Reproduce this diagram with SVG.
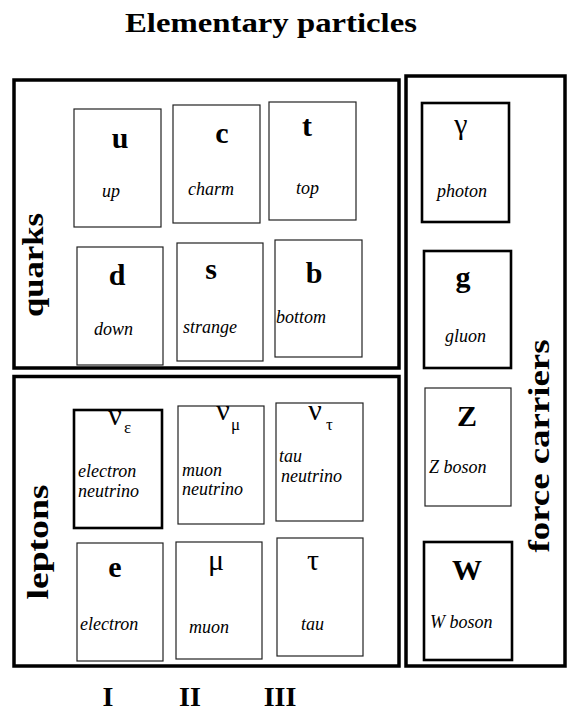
<svg xmlns="http://www.w3.org/2000/svg" width="568" height="711" viewBox="0 0 568 711">
<style>
text{font-family:"Liberation Serif","Times New Roman",serif;fill:#000}
.grp{fill:none;stroke:#000;stroke-width:3.5}
.thin{fill:#fff;stroke:#222;stroke-width:1.2}
.thick{fill:#fff;stroke:#000;stroke-width:2.6}
.sym{font-size:30px;font-weight:bold;text-anchor:middle}
.gr{font-size:30px;text-anchor:middle}
.sub{font-size:17px}
.nm{font-size:18px;font-style:italic}
.lbl{font-size:29px;font-weight:bold;text-anchor:middle}
.gen{font-size:28px;font-weight:bold;text-anchor:middle}
</style>
<rect width="568" height="711" fill="#fff"/>
<g id="title"><text x="125" y="32" font-size="27" font-weight="bold" textLength="292" lengthAdjust="spacingAndGlyphs">Elementary  particles</text></g>

<g id="quarks">
<rect class="grp" x="14" y="80" width="385" height="288"/>
<text class="lbl" transform="translate(43,265) rotate(-90)" textLength="104" lengthAdjust="spacingAndGlyphs">quarks</text>
</g>
<g id="leptons">
<rect class="grp" x="14" y="376.5" width="385" height="289.5"/>
<text class="lbl" transform="translate(48,542) rotate(-90)" textLength="115" lengthAdjust="spacingAndGlyphs">leptons</text>
</g>
<g id="force-carriers">
<rect class="grp" x="406" y="76" width="159" height="590"/>
<text class="lbl" transform="translate(549,446) rotate(-90)" textLength="213" lengthAdjust="spacingAndGlyphs">force  carriers</text>
</g>

<g id="up"><rect class="thin" x="74" y="109" width="87" height="118"/><text class="sym" x="120" y="148">u</text><text class="nm" x="102" y="197">up</text></g>
<g id="charm"><rect class="thin" x="173" y="105" width="87" height="118"/><text class="sym" x="222" y="143">c</text><text class="nm" x="188" y="195">charm</text></g>
<g id="top"><rect class="thin" x="269" y="102" width="87" height="118"/><text class="sym" x="307" y="136">t</text><text class="nm" x="296" y="194">top</text></g>
<g id="down"><rect class="thin" x="77" y="247" width="86" height="118"/><text class="sym" x="117" y="285">d</text><text class="nm" x="94" y="335">down</text></g>
<g id="strange"><rect class="thin" x="177" y="243" width="86" height="118"/><text class="sym" x="211" y="279">s</text><text class="nm" x="183" y="333">strange</text></g>
<g id="bottom"><rect class="thin" x="275" y="240" width="87" height="117"/><text class="sym" x="314" y="283">b</text><text class="nm" x="276" y="323">bottom</text></g>

<g id="electron-neutrino"><rect class="thick" x="74" y="410" width="88" height="118"/><text class="gr" x="115" y="425">ν</text><text class="sub" x="124" y="433">ε</text><text class="nm" x="78" y="477">electron</text><text class="nm" x="78" y="497">neutrino</text></g>
<g id="muon-neutrino"><rect class="thin" x="178" y="406" width="86" height="118"/><text class="gr" x="223" y="420">ν</text><text class="sub" x="231" y="430">μ</text><text class="nm" x="182" y="476">muon</text><text class="nm" x="182" y="495">neutrino</text></g>
<g id="tau-neutrino"><rect class="thin" x="276" y="403" width="87" height="118"/><text class="gr" x="315" y="420">ν</text><text class="sub" x="326" y="430">τ</text><text class="nm" x="279" y="462">tau</text><text class="nm" x="281" y="482">neutrino</text></g>
<g id="electron"><rect class="thin" x="77" y="543" width="86" height="118"/><text class="sym" x="115" y="577">e</text><text class="nm" x="80" y="630">electron</text></g>
<g id="muon"><rect class="thin" x="176" y="542" width="86" height="117"/><text class="gr" x="216" y="570">μ</text><text class="nm" x="189" y="633">muon</text></g>
<g id="tau"><rect class="thin" x="277" y="538" width="86" height="118"/><text class="gr" x="313" y="570">τ</text><text class="nm" x="301" y="630">tau</text></g>

<g id="photon"><rect class="thick" x="422" y="103" width="87" height="119"/><text class="gr" x="461" y="134">γ</text><text class="nm" x="437" y="197">photon</text></g>
<g id="gluon"><rect class="thick" x="424" y="251" width="87" height="117"/><text class="sym" x="463" y="287">g</text><text class="nm" x="445" y="342">gluon</text></g>
<g id="Z-boson"><rect class="thin" x="425" y="388" width="86" height="118"/><text class="sym" x="467" y="426">Z</text><text class="nm" x="429" y="473">Z boson</text></g>
<g id="W-boson"><rect class="thick" x="424" y="542" width="88" height="118"/><text class="sym" x="467" y="580">W</text><text class="nm" x="430" y="628">W boson</text></g>

<g id="generations">
<text class="gen" x="108" y="706">I</text>
<text class="gen" x="190" y="706">II</text>
<text class="gen" x="280" y="706">III</text>
</g>
<g id="connectors"/>
</svg>
